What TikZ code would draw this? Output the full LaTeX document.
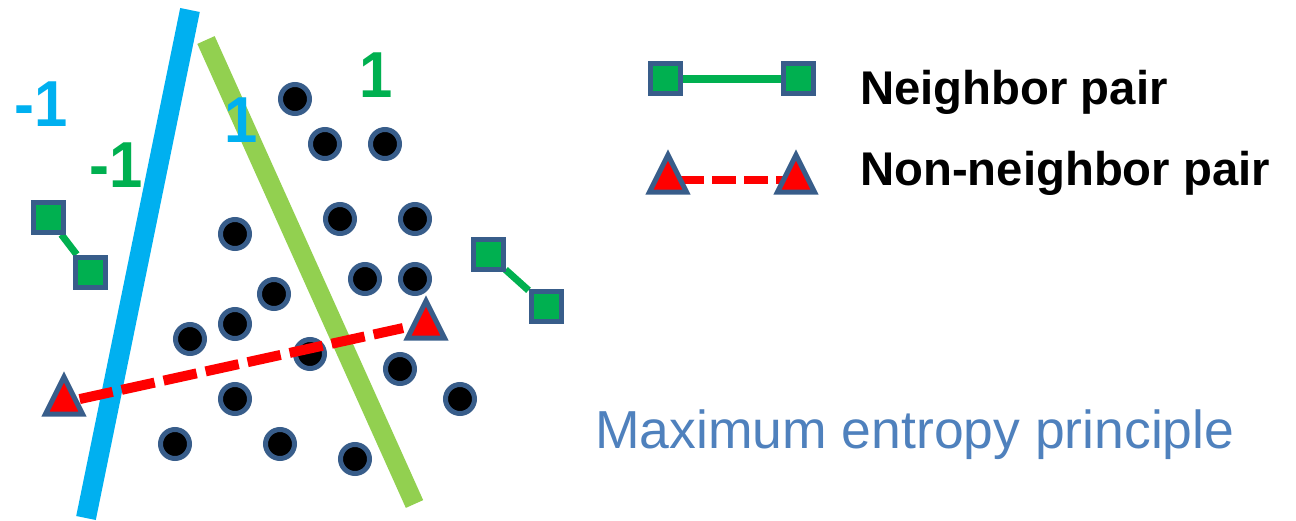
\documentclass[tikz,border=0pt]{standalone}
\usepackage{fontspec}
\setmainfont{Liberation Sans}
\usetikzlibrary{shapes.geometric}

\definecolor{outline}{HTML}{385D8A}
\definecolor{sqgreen}{HTML}{00B050}
\definecolor{skyblue}{HTML}{00B0F0}
\definecolor{limegreen}{HTML}{92D050}
\definecolor{textblue}{HTML}{4F81BD}
\definecolor{tired}{HTML}{FF0000}

\pgfdeclarelayer{back}
\pgfdeclarelayer{links}
\pgfsetlayers{back,links,main}

\begin{document}
\begin{tikzpicture}[x=1pt,y=-1pt,
  sep/.style={line width=20pt},
  dot/.style={circle, draw=outline, line width=5pt, fill=black, minimum size=29pt, inner sep=0pt},
  sq/.style={rectangle, draw=outline, line width=5pt, fill=sqgreen, minimum size=30pt, inner sep=0pt},
  tri/.style={isosceles triangle, isosceles triangle stretches, shape border rotate=90,
    draw=outline, line width=5pt, fill=tired, minimum width=37pt, minimum height=37pt,
    inner sep=0pt, anchor=lower side},
  pairline/.style={draw=sqgreen, line width=7pt},
  nonpair/.style={draw=tired, line width=10pt, dash pattern=on 33.8pt off 9.2pt},
  biglabel/.style={font=\fontsize{65}{70}\selectfont\bfseries, inner sep=0pt, anchor=base west},
  legendtext/.style={font=\fontsize{47.3}{52}\selectfont\bfseries, inner sep=0pt, anchor=base west}
]
\useasboundingbox (0,0) rectangle (1296,520);

\begin{pgfonlayer}{back}
% separating lines
\coordinate (bt) at (190,10);
\coordinate (bb) at (86,518);
\coordinate (gt) at (206,40);
\coordinate (gb) at (414.5,504);
\draw[sep, skyblue] (bt) -- (bb);
\draw[sep, limegreen, line width=19pt] (gt) -- (gb);

% side labels
\node[biglabel, text=skyblue, xscale=0.92] (lbm) at (14,126.5) {-1};
\node[biglabel, text=sqgreen, xscale=0.92] (lgm) at (89,187) {-1};
\node[biglabel, text=skyblue, xscale=0.92] (lbp) at (224.5,142) {1};
\node[biglabel, text=sqgreen, xscale=0.92] (lgp) at (359.5,97) {1};

% data points
\foreach \i/\p in {1/{(295,99)},2/{(325,144)},3/{(385,144)},4/{(235,234)},5/{(340,219)},
  6/{(415,219)},7/{(365,279)},8/{(415,279)},9/{(274,294)},10/{(235,324)},11/{(190,339)},
  12/{(310,354)},13/{(400,369)},14/{(460,399)},15/{(235,399)},16/{(175,444)},
  17/{(280,444)},18/{(355,459)}}
  \node[dot] (d\i) at \p {};
\end{pgfonlayer}

% neighbor pairs
\node[sq] (s1) at (48,217) {};
\node[sq] (s2) at (90,272) {};
\node[sq] (s3) at (488,254) {};
\node[sq] (s4) at (546,306) {};

% non-neighbor pair
\node[tri] (ta) at (64,416.5) {};
\node[tri] (tb) at (426,340.5) {};

% legend
\node[sq] (ls1) at (665,78.5) {};
\node[sq] (ls2) at (798,78.5) {};
\node[legendtext] (ln) at (860,104) {Neighbor pair};
\node[tri] (lt1) at (668,194.5) {};
\node[tri] (lt2) at (796,194.5) {};
\node[legendtext] (lnn) at (860,185) {Non-neighbor pair};

\node[inner sep=0pt, anchor=base west, text=textblue, font=\fontsize{53.5}{58}\selectfont] (me) at (595,448) {Maximum entropy principle};

\begin{pgfonlayer}{links}
\draw[pairline] (s1) -- (s2);
\draw[pairline] (s3) -- (s4);
\draw[nonpair, shorten <=16pt, shorten >=23.5pt] ([yshift=14pt]ta.lower side) -- ([yshift=17.5pt]tb.lower side);
\draw[pairline, line width=8pt] (ls1) -- (ls2);
\draw[draw=tired, line width=8pt, dash pattern=on 24pt off 8pt, shorten <=12pt] ([yshift=14.5pt]lt1.lower side) -- ([yshift=14.5pt]lt2.lower side);
\end{pgfonlayer}
\end{tikzpicture}
\end{document}
